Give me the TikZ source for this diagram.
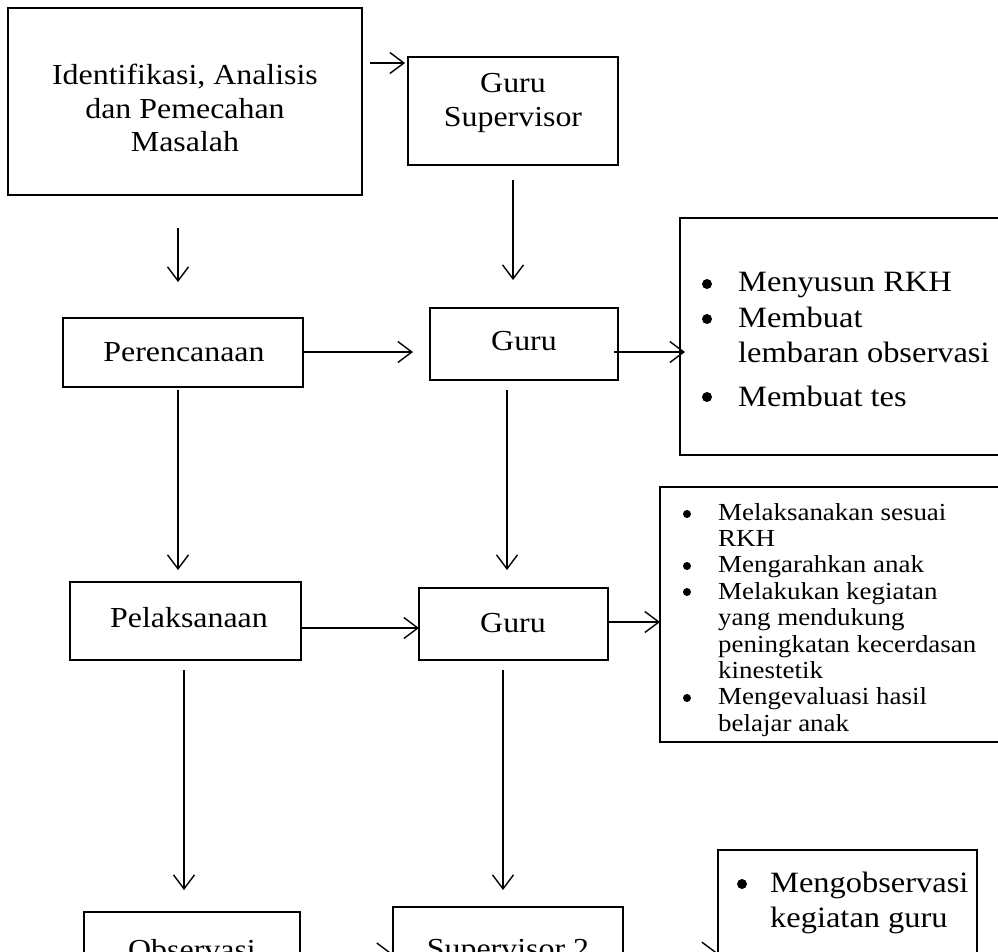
\documentclass[tikz,border=0pt]{standalone}
\usepackage{fontspec}
\setmainfont{Liberation Serif}[FakeStretch=1.1]
\usetikzlibrary{arrows.meta}
\tikzset{
  box/.style={draw, line width=2.2pt, inner sep=0pt},
  arr/.style={line width=1.4pt, -{Straight Barb[length=14pt,width=21pt,line width=1.4pt]}},
  big/.style={font=\fontsize{29}{33.5}\selectfont, align=center},
  lst/.style={font=\fontsize{29.5}{35.5}\selectfont, anchor=base west, inner sep=0pt},
  sml/.style={font=\fontsize{24.5}{26.4}\selectfont, anchor=base west, inner sep=0pt},
  bul/.style={circle, fill, inner sep=0pt, minimum size=10pt},
  buls/.style={circle, fill, inner sep=0pt, minimum size=8pt}
}
\begin{document}
\begin{tikzpicture}[x=1pt,y=-1pt]
\useasboundingbox (0,0) rectangle (998,951);
\clip (0,0) rectangle (998,951);
% boxes
\draw[box] (8,8) rectangle (362,195);
\node[big] (b1) at (185,108) {Identifikasi, Analisis\\dan Pemecahan\\Masalah};
\draw[box] (408,57) rectangle (618,165);
\node[big] (b2) at (513,103) {Guru\\Supervisor};
\draw[box] (63,318) rectangle (303,387);
\node[big] (per) at (184,352) {Perencanaan};
\draw[box] (430,308) rectangle (618,380);
\node[big] (g2) at (524,341) {Guru};
\draw[box] (680,218) rectangle (1010,455);
\draw[box] (70,582) rectangle (301,660);
\node[big] (pel) at (189,618) {Pelaksanaan};
\draw[box] (419,588) rectangle (608,660);
\node[big] (g3) at (513,623) {Guru};
\draw[box] (660,487) rectangle (1010,742);
\draw[box] (84,912) rectangle (300,990);
\node[big] (obs) at (192,950) {Observasi};
\draw[box] (393,907) rectangle (623,990);
\node[big] (sup) at (508,952) {Supervisor 2};
\draw[box] (718,850) rectangle (977,1000);
% list 1
\node[bul] (d11) at (707,284) {};
\node[lst] (l11) at (738,291) {Menyusun RKH};
\node[bul] (d12) at (707,319) {};
\node[lst] (l12a) at (738,327) {Membuat};
\node[lst] (l12b) at (738,362.5) {lembaran observasi};
\node[bul] (d13) at (707,397) {};
\node[lst] (l13) at (738,406) {Membuat tes};
% list 2
\node[buls] (d21) at (687,514) {};
\node[sml] (l21a) at (718,520) {Melaksanakan sesuai};
\node[sml] (l21b) at (718,546.4) {RKH};
\node[buls] (d22) at (687,566) {};
\node[sml] (l22) at (718,572.8) {Mengarahkan anak};
\node[buls] (d23) at (687,592) {};
\node[sml] (l23a) at (718,599.2) {Melakukan kegiatan};
\node[sml] (l23b) at (718,625.6) {yang mendukung};
\node[sml] (l23c) at (718,652) {peningkatan kecerdasan};
\node[sml] (l23d) at (718,678.4) {kinestetik};
\node[buls] (d24) at (687,698) {};
\node[sml] (l24a) at (718,704.8) {Mengevaluasi hasil};
\node[sml] (l24b) at (718,731.2) {belajar anak};
% list 3
\node[bul] (d31) at (742,884) {};
\node[lst] (l31a) at (770,892) {Mengobservasi};
\node[lst] (l31b) at (770,927.5) {kegiatan guru};
% connector end points
\coordinate (a1s) at (370,63); \coordinate (a1e) at (405,63);
\coordinate (a2s) at (178,228); \coordinate (a2e) at (178,282);
\coordinate (a3s) at (513,180); \coordinate (a3e) at (513,280);
\coordinate (a4s) at (303,352); \coordinate (a4e) at (413,352);
\coordinate (a5s) at (614,352); \coordinate (a5e) at (685,352);
\coordinate (a6s) at (178,390); \coordinate (a6e) at (178,570);
\coordinate (a7s) at (507,390); \coordinate (a7e) at (507,570);
\coordinate (a8s) at (301,628); \coordinate (a8e) at (419,628);
\coordinate (a9s) at (608,622); \coordinate (a9e) at (660,622);
\coordinate (a10s) at (184,670); \coordinate (a10e) at (184,890);
\coordinate (a11s) at (503,670); \coordinate (a11e) at (503,890);
\coordinate (a12s) at (330,953.5); \coordinate (a12e) at (392,953.5);
\coordinate (a13s) at (623,952.6); \coordinate (a13e) at (717,952.6);
\foreach \i in {1,...,13} \draw[arr] (a\i s) -- (a\i e);
\end{tikzpicture}
\end{document}
